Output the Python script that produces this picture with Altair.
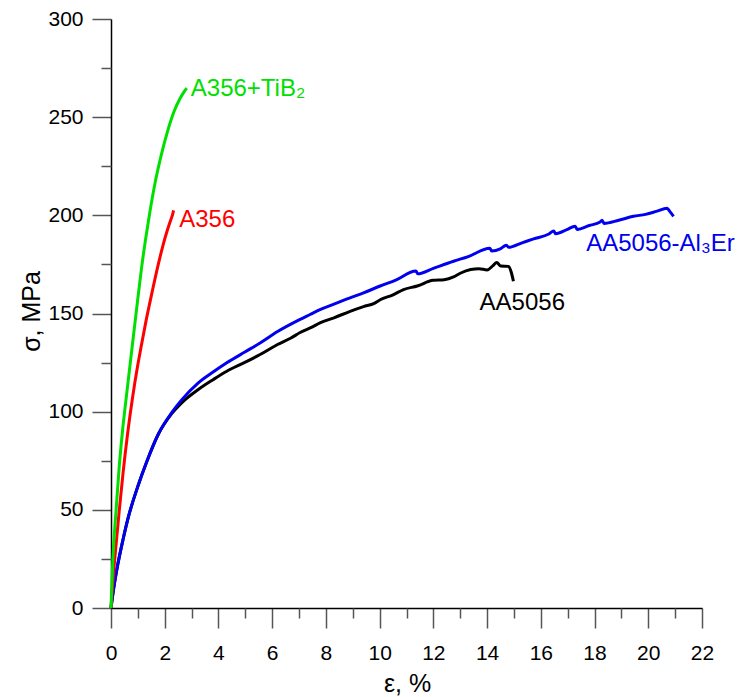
import altair as alt
import pandas as pd

# ---- data ----
series_names = ["AA5056", "AA5056-Al3Er", "A356", "A356+TiB2"]
series_colors = ["#000000", "#0000EE", "#FF0000", "#00E000"]

eps_k = [0, 0.1, 0.25, 0.45, 0.65, 1.0, 1.33, 1.76, 2.26, 2.63, 3.25, 3.8, 4.31, 5.0, 5.55,
         6.2, 6.7, 7.04, 7.5, 7.78, 8.3, 8.9, 9.4, 9.8, 10.02, 10.5, 10.89, 11.4, 11.99, 12.4,
         12.75, 13.0, 13.39, 13.7, 14.0, 14.22, 14.36, 14.5, 14.8, 14.9, 14.98]
sig_k = [0, 10, 22, 35, 46.5, 62, 74.5, 88.5, 99, 104.5, 111.3, 116.3, 120.6, 125.2, 129.1,
         134.2, 137.5, 140.3, 143.2, 145.2, 147.8, 151.1, 153.5, 155.2, 157, 159.5, 162.2, 164,
         166.9, 167.2, 168.6, 170.5, 172.4, 172.8, 172.2, 174.4, 176, 174.2, 174, 171, 166.4]

eps_b = [0, 0.1, 0.25, 0.45, 0.65, 1.0, 1.33, 1.76, 2.26, 2.63, 3.25, 3.8, 4.31, 5.0, 5.55,
         6.2, 7.04, 7.41, 7.78, 8.3, 8.9, 9.4, 10.02, 10.6, 11.35, 11.42, 12.0, 12.75, 13.3,
         14.1, 14.18, 14.49, 14.72, 14.8, 15.3, 15.73, 16.3, 16.48, 16.55, 16.97, 17.28, 17.35,
         17.8, 18.21, 18.28, 18.35, 18.9, 19.45, 19.9, 20.3, 20.7, 20.8, 20.94]
sig_b = [0, 10, 22, 35, 46.5, 62, 74.5, 88.5, 99.5, 106, 114.7, 120.2, 124.9, 130.5, 135,
         140.8, 147, 149.5, 152, 154.8, 158, 160.5, 164, 167, 171.6, 170.2, 173, 176.6, 179,
         183.2, 181.8, 182.9, 184.8, 183.7, 186, 188, 190.5, 192, 190.6, 192.7, 194.5, 192.8,
         194.8, 196.6, 197.5, 195.9, 197.5, 199.5, 200.5, 202, 203.6, 202, 199.5]

eps_r = [0, 0.05, 0.12, 0.2, 0.31, 0.45, 0.62, 0.8, 1.0, 1.12, 1.3, 1.5, 1.76, 1.95, 2.1, 2.22, 2.3, 2.33]
sig_r = [0, 10, 22, 34, 50, 69, 89, 107, 124, 133, 146, 159, 175, 185.5, 192.5, 197.5, 200.8, 202.5]

eps_g = [0, 0.07, 0.19, 0.3, 0.42, 0.6, 0.77, 0.95, 1.14, 1.3, 1.45, 1.64, 1.85, 2.11, 2.35, 2.55, 2.7, 2.82]
sig_g = [0, 25, 50, 71, 89, 111, 131, 152, 173.5, 189, 202, 216.5, 229.5, 243, 253, 259, 262.5, 264.8]

label_texts = ["AA5056", "AA5056-Al\u2083Er", "A356", "A356+TiB\u2082"]
label_eps = [13.72, 17.69, 2.54, 2.97]
label_sig = [152, 181.7, 194, 260.6]

x_major = [0, 2, 4, 6, 8, 10, 12, 14, 16, 18, 20, 22]
x_minor = [1, 3, 5, 7, 9, 11, 13, 15, 17, 19, 21]
y_major = [0, 50, 100, 150, 200, 250, 300]
y_minor = [25, 75, 125, 175, 225, 275]

rows = []
for name, xs, ys in zip(series_names, [eps_k, eps_b, eps_r, eps_g], [sig_k, sig_b, sig_r, sig_g]):
    for i, (x, y) in enumerate(zip(xs, ys)):
        rows.append({"series": name, "eps": x, "sigma": y, "i": i})
df = pd.DataFrame(rows)

labels_df = pd.DataFrame({"series": series_names, "text": label_texts,
                          "eps": label_eps, "sigma": label_sig})

FONT = "Liberation Sans"
xscale = alt.Scale(domain=[0, 22], nice=False, zero=False)
yscale = alt.Scale(domain=[0, 300], nice=False, zero=False)
cscale = alt.Scale(domain=series_names, range=series_colors)

lines = alt.Chart(df).mark_line(strokeWidth=3, clip=False, interpolate="monotone").encode(
    x=alt.X("eps:Q", scale=xscale,
            axis=alt.Axis(values=x_major, tickSize=20, title="ε, %", orient="bottom",
                          labelPadding=14, titleX=296, titleY=83, titleBaseline="alphabetic",
                          titleAlign="center")),
    y=alt.Y("sigma:Q", scale=yscale,
            axis=alt.Axis(values=y_major, tickSize=19, title="σ, MPa", orient="left",
                          labelPadding=9, titleX=-80, titleY=292, titleBaseline="middle",
                          titleAlign="center")),
    color=alt.Color("series:N", scale=cscale, legend=None),
    order=alt.Order("i:Q"),
)

labels = alt.Chart(labels_df).mark_text(align="left", baseline="alphabetic", fontSize=24,
                                        font=FONT).encode(
    x=alt.X("eps:Q", scale=xscale,
            axis=alt.Axis(values=x_minor, tickSize=10, labels=False, domain=False,
                          title=None, orient="bottom")),
    y=alt.Y("sigma:Q", scale=yscale,
            axis=alt.Axis(values=y_minor, tickSize=10, labels=False, domain=False,
                          title=None, orient="left")),
    text="text:N",
    color=alt.Color("series:N", scale=cscale, legend=None),
)

chart = alt.layer(lines, labels).resolve_axis(x="independent", y="independent").properties(
    width=591, height=589,
    padding={"left": 111, "top": 19, "right": 35, "bottom": 89},
    autosize=alt.AutoSizeParams(type="none"),
    background="white",
).configure_view(stroke=None).configure_axis(
    grid=False,
    labelFont=FONT, labelFontSize=21, labelColor="#000000",
    titleFont=FONT, titleFontSize=25, titleFontWeight="normal", titleColor="#000000",
    domainColor="#000000", domainWidth=1.5,
    tickColor="#555555", tickWidth=1.5,
    labelFlush=False, labelOverlap=False,
)

chart.save("out.html", embed_options={"renderer": "svg", "actions": False})
